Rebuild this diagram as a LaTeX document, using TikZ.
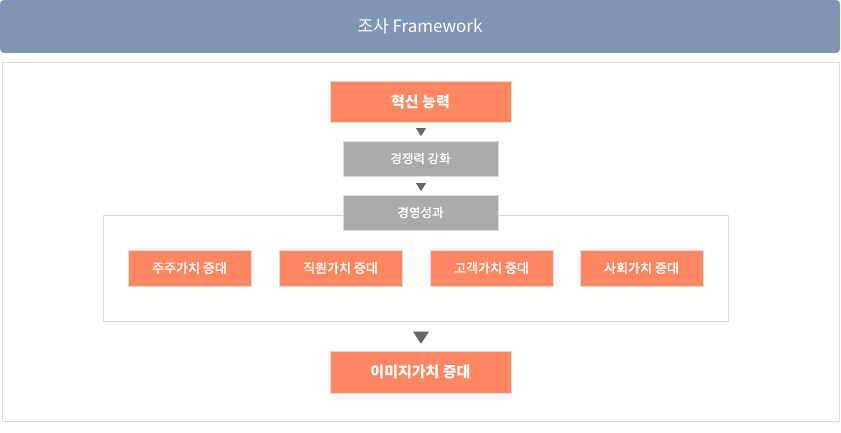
\documentclass[tikz,border=0pt]{standalone}
\usepackage{fontspec}
\setmainfont{Noto Sans CJK KR}
\newfontfamily\semib[FakeBold=1.2]{Noto Sans CJK KR}
\usetikzlibrary{shapes.geometric}
\definecolor{hdr}{HTML}{7F96B4}
\definecolor{org}{HTML}{FF8862}
\definecolor{gry}{HTML}{AAAAAA}
\definecolor{edge}{HTML}{DDDDDD}
\definecolor{tri}{HTML}{666666}
\begin{document}
\begin{tikzpicture}[x=1pt,y=-1pt,
  obox/.style={draw=edge,fill=org,text=white,inner sep=0pt,font=\fontsize{15}{17}\selectfont\bfseries},
  gbox/.style={draw=edge,fill=gry,text=white,inner sep=0pt,font=\semib\fontsize{12.5}{14}\selectfont},
  sbox/.style={draw=edge,fill=org,text=white,inner sep=0pt,font=\semib\fontsize{13}{15}\selectfont},
  trimark/.style={isosceles triangle,shape border rotate=-90,fill=tri,draw=none,inner sep=0pt,isosceles triangle stretches}]
\useasboundingbox (0,0) rectangle (841,433);
\node[fill=hdr,rounded corners=4pt,minimum width=840pt,minimum height=53pt,inner sep=0pt,text=white,font=\fontsize{17}{19}\selectfont] (hdr) at (420,26.5) {조사 Framework};
\node[draw=edge,fill=white,minimum width=837pt,minimum height=359pt,inner sep=0pt] (panel) at (420.5,241.5) {};
\node[draw=edge,minimum width=625pt,minimum height=106pt,inner sep=0pt] (frame) at (415.5,268) {};
\node[obox,minimum width=181pt,minimum height=41pt] (inno) at (420.5,101.5) {혁신 능력};
\node[trimark,minimum width=10pt,minimum height=8pt] (t1) at (421,131) {};
\node[gbox,minimum width=155pt,minimum height=35pt] (comp) at (420.5,158.5) {경쟁력 강화};
\node[trimark,minimum width=10pt,minimum height=8pt] (t2) at (421,186) {};
\node[gbox,minimum width=155pt,minimum height=35pt] (perf) at (420.5,212.5) {경영성과};
\node[sbox,minimum width=123pt,minimum height=36pt] (s1) at (189.5,268) {주주가치 증대};
\node[sbox,minimum width=123pt,minimum height=36pt] (s2) at (340.5,268) {직원가치 증대};
\node[sbox,minimum width=123pt,minimum height=36pt] (s3) at (491.5,268) {고객가치 증대};
\node[sbox,minimum width=123pt,minimum height=36pt] (s4) at (641.5,268) {사회가치 증대};
\node[trimark,minimum width=16pt,minimum height=12pt] (t3) at (421,336) {};
\node[obox,minimum width=181pt,minimum height=42pt] (img) at (420.5,372) {이미지가치 증대};
\end{tikzpicture}
\end{document}
